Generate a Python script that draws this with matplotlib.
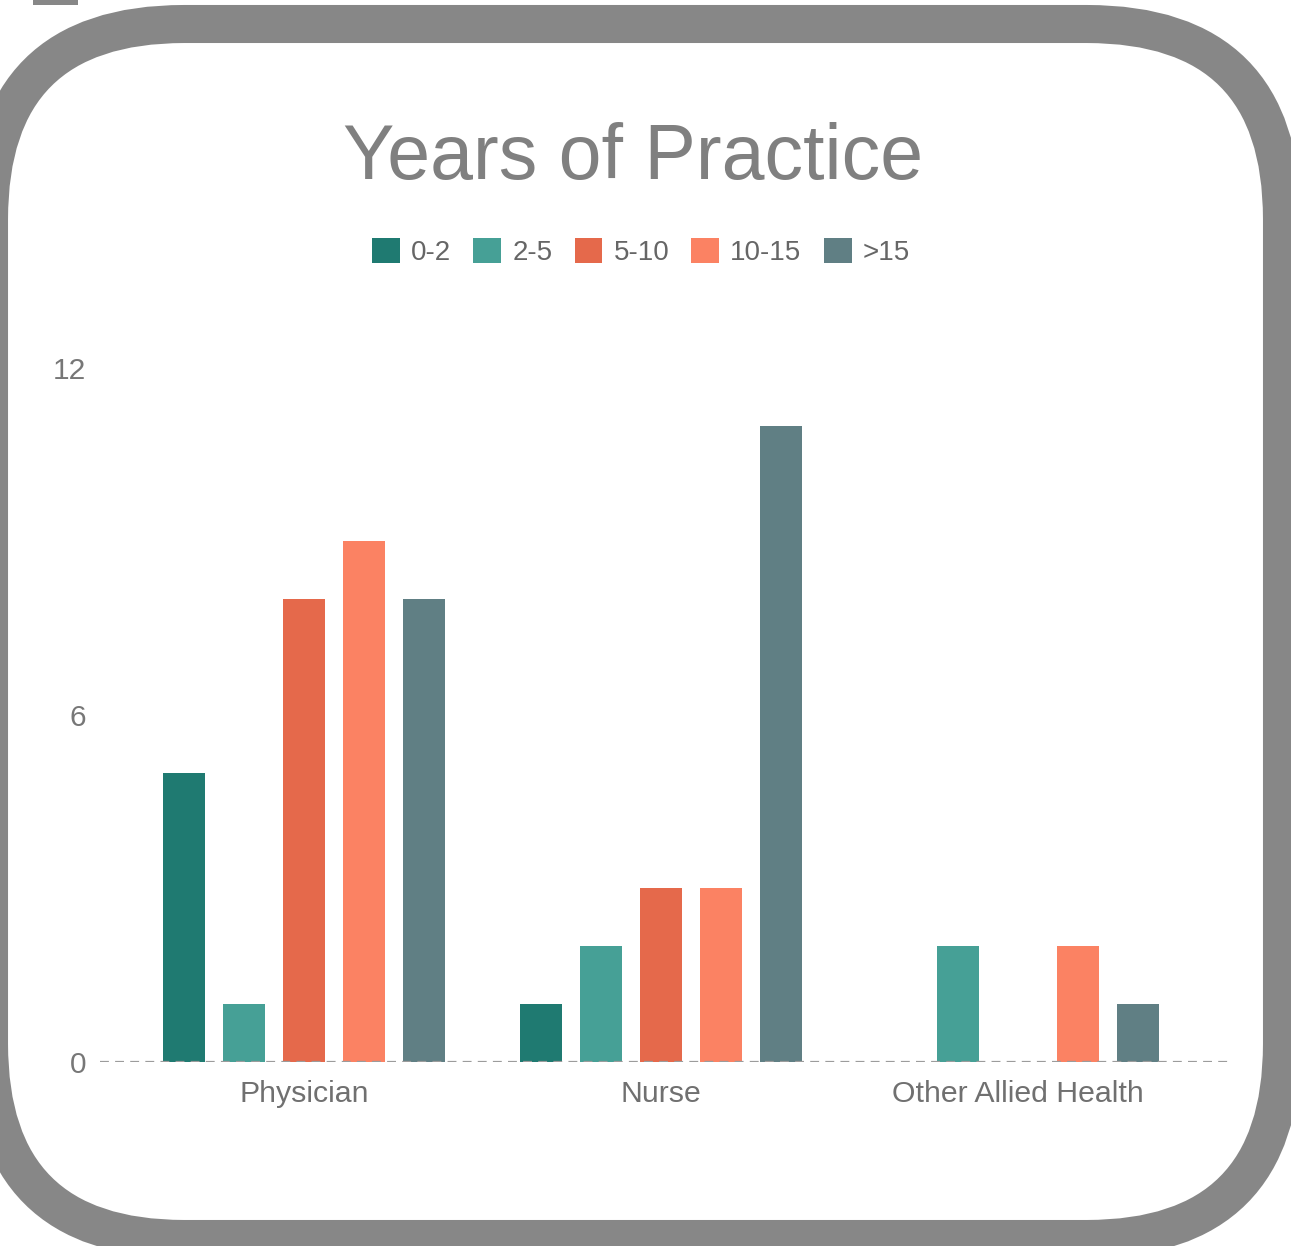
import matplotlib
matplotlib.use("Agg")
import matplotlib.pyplot as plt
from matplotlib.patches import FancyBboxPatch, Rectangle
from matplotlib.transforms import IdentityTransform
import numpy as np

plt.rcParams['font.family'] = ['Liberation Sans', 'DejaVu Sans']

categories = ["Physician", "Nurse", "Other Allied Health"]
groups = ["0-2", "2-5", "5-10", "10-15", ">15"]
values = {
    "0-2":   [5, 1, 0],
    "2-5":   [1, 2, 2],
    "5-10":  [8, 3, 0],
    "10-15": [9, 3, 2],
    ">15":   [8, 11, 1],
}
colors = ["#1f7a71", "#46a096", "#e5694b", "#fb8263", "#607f84"]
yticks = [0, 6, 12]

fig = plt.figure(figsize=(12.91, 12.46), dpi=100)
fig.patch.set_facecolor("white")

# rounded gray frame (pixel coords)
frame = FancyBboxPatch((-11, 7), 1293, 1215,
                       boxstyle="round,pad=0,rounding_size=195",
                       facecolor="white", edgecolor="#878787",
                       linewidth=27.4, transform=IdentityTransform(), zorder=0)
fig.add_artist(frame)
fig.add_artist(Rectangle((33, 1241), 45, 6, facecolor="#878787",
                         edgecolor="none", transform=IdentityTransform()))

ax = fig.add_axes([0.0775, 0.1477, 0.8737, 0.557])
ax.set_facecolor("none")

x = np.arange(len(categories))
step = 0.168
w = 0.1176
for j, g in enumerate(groups):
    ax.bar(x + (j - 2) * step, values[g], width=w, color=colors[j],
           label=g, zorder=2)

ax.axhline(0, color="#9c9c9c", lw=1.6, ls=(0, (4, 2.8)), zorder=3)

ax.set_xlim(-0.571, 2.588)
ax.set_ylim(0, 12)
ax.set_yticks(yticks)
ax.set_yticklabels([str(t) for t in yticks], fontsize=21.5, color="#777777")
ax.set_xticks(x)
ax.set_xticklabels(categories, fontsize=21.8, color="#707070")
ax.tick_params(axis="y", length=0, pad=10)
ax.tick_params(axis="x", length=0, pad=13)
for s in ax.spines.values():
    s.set_visible(False)

fig.text(633 / 1291, 1 - 158 / 1246, "Years of Practice", ha="center", va="center",
         fontsize=55.5, color="#808080")

handles, labels = ax.get_legend_handles_labels()
leg = fig.legend(handles, labels, loc="center", bbox_to_anchor=(641 / 1291, 1 - 252 / 1246),
                 ncol=5, frameon=False, fontsize=20, handlelength=1.0, handleheight=1.0,
                 handletextpad=0.4, columnspacing=0.8, borderpad=0)
for t in leg.get_texts():
    t.set_color("#666666")

fig.savefig("out.png", dpi=100)
